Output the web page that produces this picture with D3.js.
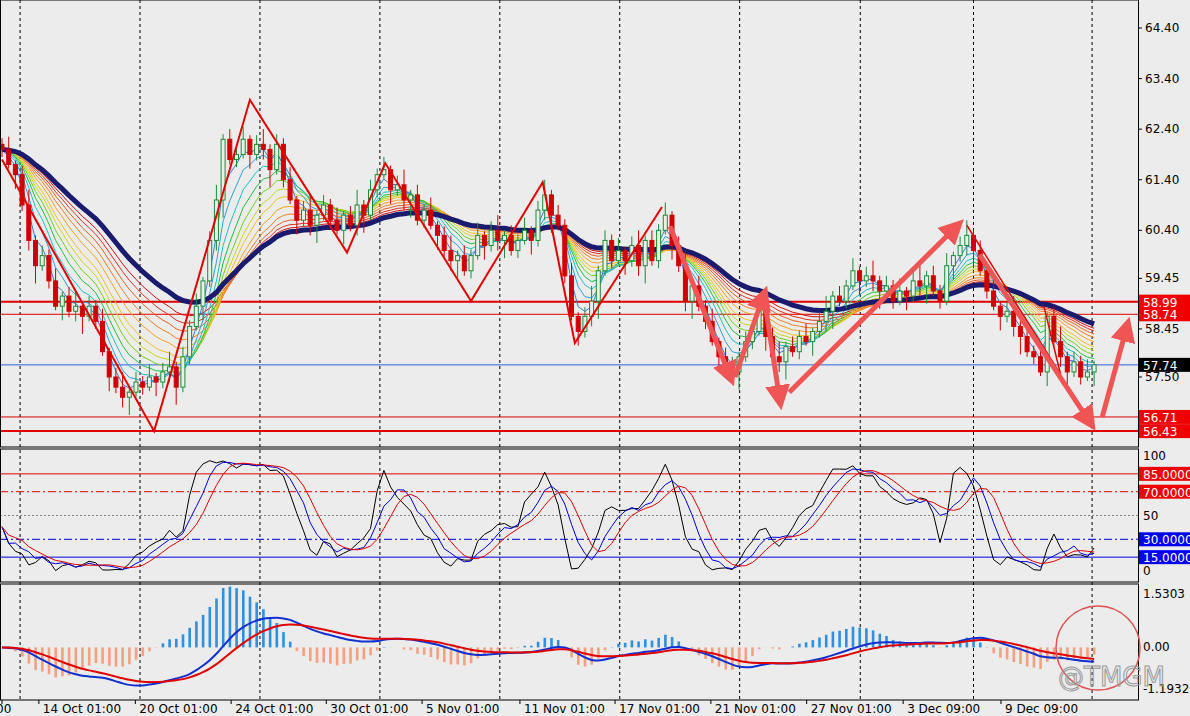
<!DOCTYPE html>
<html><head><meta charset="utf-8">
<script src="https://cdn.jsdelivr.net/npm/d3@7"></script>
<style>body{margin:0;background:#ececec}svg{display:block;font-family:Tahoma,"DejaVu Sans",sans-serif}</style>
</head><body><svg id="c" width="1190" height="716"></svg>
<script>
// ---------- data ----------
const closes = [62.0,61.7,61.5,60.9,60.2,59.7,59.9,59.4,58.9,59.1,58.8,58.9,58.7,58.9,58.6,58.0,57.5,57.3,57.1,57.2,
57.4,57.3,57.5,57.4,57.6,57.7,57.3,57.9,58.5,58.9,59.4,60.2,61.0,62.2,61.8,61.9,62.2,61.9,62.1,62.0,
61.6,62.1,61.4,61.0,60.6,60.8,60.5,60.7,60.9,60.6,60.4,60.7,60.5,60.9,60.7,61.2,61.5,61.6,61.2,61.3,
61.0,61.1,60.6,60.8,60.5,60.3,60.0,59.8,59.9,59.6,59.9,60.3,60.1,60.4,60.2,60.3,60.0,60.2,60.4,60.2,
60.8,61.1,60.7,60.5,59.5,58.7,58.4,58.7,59.0,59.6,60.2,59.8,60.0,59.8,60.1,59.7,60.2,59.8,60.4,60.7,
60.1,59.7,59.0,59.3,58.9,58.6,58.2,57.9,57.6,57.6,57.9,58.2,58.4,58.8,58.3,57.9,57.8,58.1,58.0,58.3,
58.2,58.4,58.6,58.8,59.1,59.0,59.3,59.6,59.4,59.5,59.4,59.2,59.3,59.0,59.2,59.1,59.4,59.3,59.5,59.2,
59.0,59.7,59.9,60.1,60.3,60.0,59.6,59.2,58.9,58.7,58.8,58.5,58.3,58.0,57.9,57.6,58.7,58.2,57.9,57.6,
57.8,57.5,57.6,57.74];
const wickUp = [0.12,0.25,0.08,0.18,0.30,0.10,0.20];
const wickDn = [0.15,0.08,0.28,0.12,0.20,0.35,0.10];
const startPrice = 62.1;
const priceTicks = [64.40,63.40,62.40,61.40,60.40,59.45,58.45,57.50];
const levels = [{v:58.99,w:2},{v:58.74,w:1},{v:56.71,w:1},{v:56.43,w:2}];
const lastPrice = 57.74;
const dateLabels = ["00","14 Oct 01:00","20 Oct 01:00","24 Oct 01:00","30 Oct 01:00","5 Nov 01:00","11 Nov 01:00","17 Nov 01:00","21 Nov 01:00","27 Nov 01:00","3 Dec 09:00","9 Dec 09:00"];
const dateLabelBars = [0,5.5,19.9,34.2,48.4,62.7,77.3,91.5,105.8,120.1,134.5,149.1];
const gridBars = [2.7,20.6,38.5,56.4,74.3,92.2,110.1,128.1,145,162.7];
const zzBars =  [0,22.7,37,51.5,57.2,70,80.7,85.5,98.5];
const zzPrice = [61.8,56.43,62.98,59.96,61.73,59.0,61.35,58.17,60.86];
const zz2Bars = [144,158,155.5];
const zz2Price = [60.5,57.55,58.9];
const arrows = [[99.7,60.48,108.7,57.5],[109.4,57.5,113.7,59.12],[113.7,59.12,116.1,57.04],[117.5,57.2,142.5,60.48],[145.9,59.92,162.4,56.6],[164.2,56.7,167.9,58.5]];
const emaPeriods = [3,5,7,9,11,13,15,18,21,24,27,30];
const emaColors = ["#3a7bd5","#2f9fe0","#20c0c0","#20c040","#70d020","#c8d820","#f0c020","#f8a020","#f08020","#e86020","#e03020","#d01010"];
const stochLevels = [{v:85,c:"#e00000",d:null},{v:70,c:"#e00000",d:"8,3,2,3"},{v:50,c:"#888",d:"2,2"},{v:30,c:"#0000e0",d:"8,3,2,3"},{v:15,c:"#0000e0",d:null}];
const macdTicks = ["1.5303","0.00","-1.1932"];

// ---------- layout ----------
const svg = d3.select("#c");
const W = 1138, step = 6.7;
const x = i => i*step + 2;
const yP = d3.scaleLinear().domain([57.5,64.4]).range([377,28]);
const yS = d3.scaleLinear().domain([0,100]).range([575,456]);
const yM = d3.scaleLinear().domain([-1.1932,1.5303]).range([689,594]);

svg.append("rect").attr("width",1190).attr("height",716).attr("fill","#ececec");
const defs = svg.append("defs");
[["c1",0,447],["c2",450,582],["c3",586,700]].forEach(([id,a,b])=>defs.append("clipPath").attr("id",id).append("rect").attr("x",0).attr("y",a).attr("width",W).attr("height",b-a));
defs.append("marker").attr("id","ah").attr("viewBox","0 0 10 10").attr("refX",6).attr("refY",5).attr("markerWidth",5).attr("markerHeight",6).attr("orient","auto")
 .append("path").attr("d","M0,0L10,5L0,10z").attr("fill","#f05555");

const opens = closes.map((c,i)=> i? closes[i-1] : startPrice);
const highs = closes.map((c,i)=> Math.max(c,opens[i]) + wickUp[i%7]);
const lows  = closes.map((c,i)=> Math.min(c,opens[i]) - wickDn[i%7]);
function ema(arr,p){const k=2/(p+1);let e=arr[0];return arr.map(v=>e=v*k+e*(1-k));}
const smooth=(a,n)=>a.map((v,i)=>d3.mean(a.slice(Math.max(0,i-n+1),i+1)));

gridBars.forEach(b=>svg.append("line").attr("x1",x(b)).attr("x2",x(b)).attr("y1",0).attr("y2",700).attr("stroke","#000").attr("stroke-dasharray","3,3"));

const g1 = svg.append("g").attr("clip-path","url(#c1)");
g1.append("line").attr("x1",0).attr("x2",W).attr("y1",yP(lastPrice)).attr("y2",yP(lastPrice)).attr("stroke","#3060e0").attr("stroke-width",1);
levels.forEach(l=>g1.append("line").attr("x1",0).attr("x2",W).attr("y1",yP(l.v)).attr("y2",yP(l.v)).attr("stroke","#e00000").attr("stroke-width",l.w));

const line = d3.line().x((d,i)=>x(i)).y(d=>yP(d));
emaPeriods.slice().reverse().forEach((p,j)=>{
  const c = emaColors[emaPeriods.length-1-j];
  g1.append("path").attr("d",line(ema(closes,p))).attr("fill","none").attr("stroke",c).attr("stroke-width",1);
});
g1.append("path").attr("d",line(ema(closes,36))).attr("fill","none").attr("stroke","#1a1a6e").attr("stroke-width",5);

closes.forEach((c,i)=>{
  const up = c>=opens[i], col = up?"#1e8a3a":"#d00000";
  g1.append("line").attr("x1",x(i)).attr("x2",x(i)).attr("y1",yP(highs[i])).attr("y2",yP(lows[i])).attr("stroke",col);
  const t=yP(Math.max(c,opens[i])), b=yP(Math.min(c,opens[i]));
  g1.append("rect").attr("x",x(i)-2).attr("y",t).attr("width",4).attr("height",Math.max(1,b-t)).attr("fill",up?"#e8f0e8":"#d00000").attr("stroke",col).attr("stroke-width",1);
});

const zl = d3.line().x(d=>x(d[0])).y(d=>yP(d[1]));
g1.append("path").attr("d",zl(zzBars.map((b,i)=>[b,zzPrice[i]]))).attr("fill","none").attr("stroke","#e00000").attr("stroke-width",2);
g1.append("path").attr("d",zl(zz2Bars.map((b,i)=>[b,zz2Price[i]]))).attr("fill","none").attr("stroke","#e00000").attr("stroke-width",1.5);
arrows.forEach(a=>svg.append("line").attr("x1",x(a[0])).attr("y1",yP(a[1])).attr("x2",x(a[2])).attr("y2",yP(a[3]))
  .attr("stroke","#f05555").attr("stroke-width",5).attr("marker-end","url(#ah)"));

// ---------- stochastic ----------
const g2 = svg.append("g").attr("clip-path","url(#c2)");
stochLevels.forEach(l=>g2.append("line").attr("x1",0).attr("x2",W).attr("y1",yS(l.v)).attr("y2",yS(l.v)).attr("stroke",l.c).attr("stroke-dasharray",l.d));
const K0 = closes.map((c,i)=>{const s=Math.max(0,i-13);const hh=d3.max(highs.slice(s,i+1)),ll=d3.min(lows.slice(s,i+1));return 100*(c-ll)/(hh-ll||1);});
const K=smooth(K0,2), K2=smooth(K0,5), D=smooth(K2,4);
const sl = d3.line().x((d,i)=>x(i)).y(d=>yS(d));
g2.append("path").attr("d",sl(K)).attr("fill","none").attr("stroke","#000");
g2.append("path").attr("d",sl(K2)).attr("fill","none").attr("stroke","#0000e0");
g2.append("path").attr("d",sl(D)).attr("fill","none").attr("stroke","#e00000");

// ---------- MACD ----------
const g3 = svg.append("g").attr("clip-path","url(#c3)");
const e12=ema(closes,12), e26=ema(closes,26);
const macd = e12.map((v,i)=>v-e26[i]);
const sig = ema(macd,9);
const hist = macd.map((v,i)=> (v-sig[i])*2.8);
hist.forEach((h,i)=>g3.append("rect").attr("x",x(i)-1.2).attr("width",2.6).attr("y",Math.min(yM(h),yM(0))).attr("height",Math.abs(yM(h)-yM(0))).attr("fill",h>=0?"#2f8fe0":"#f5a080"));
const ml = d3.line().x((d,i)=>x(i)).y(d=>yM(d)).curve(d3.curveMonotoneX);
g3.append("path").attr("d",ml(smooth(macd,3))).attr("fill","none").attr("stroke","#1030d0").attr("stroke-width",2);
g3.append("path").attr("d",ml(sig)).attr("fill","none").attr("stroke","#e00000").attr("stroke-width",2);

// ---------- frames & axes ----------
const frame=(y1,y2)=>svg.append("rect").attr("x",0.5).attr("y",y1).attr("width",W).attr("height",y2-y1).attr("fill","none").attr("stroke","#000");
frame(0,447);frame(449,582);frame(584,700);
const ax = svg.append("g").attr("font-size",12).attr("fill","#000");
function tag(y,bg,txt,w){ax.append("rect").attr("x",W+1).attr("y",y-7).attr("width",w).attr("height",14).attr("fill",bg);
  ax.append("text").attr("x",W+5).attr("y",y+5).attr("fill","#fff").text(txt);}
priceTicks.forEach(p=>{ax.append("line").attr("x1",W).attr("x2",W+4).attr("y1",yP(p)).attr("y2",yP(p)).attr("stroke","#000");
  ax.append("text").attr("x",W+7).attr("y",yP(p)+4).text(p.toFixed(2));});
levels.forEach(l=>tag(yP(l.v),"#f00000",l.v.toFixed(2),52));
tag(yP(lastPrice),"#000",lastPrice.toFixed(2),52);
[100,50,0].forEach(v=>ax.append("text").attr("x",W+5).attr("y",yS(v)+(v===0?0:4)).text(v));
stochLevels.filter(l=>l.v!==50).forEach(l=>tag(yS(l.v),l.c==="#e00000"?"#f00000":"#0000f0",l.v.toFixed(4),52));
[1.5303,0,-1.1932].forEach((v,k)=>ax.append("text").attr("x",W+5).attr("y",yM(v)+4).text(macdTicks[k]));
dateLabels.forEach((t,k)=>{const xx=x(dateLabelBars[k]);
  ax.append("line").attr("x1",xx).attr("x2",xx).attr("y1",700).attr("y2",704).attr("stroke","#000");
  ax.append("text").attr("x",k?xx+4:-4).attr("y",713).text(t);});

svg.append("circle").attr("cx",1098).attr("cy",648).attr("r",42).attr("fill","none").attr("stroke","#e05050").attr("stroke-width",1.5);
svg.append("text").attr("x",1058).attr("y",686).attr("font-size",26).attr("fill","none").attr("stroke","#999").attr("stroke-width",1).text("@TMGM");
</script></body></html>
